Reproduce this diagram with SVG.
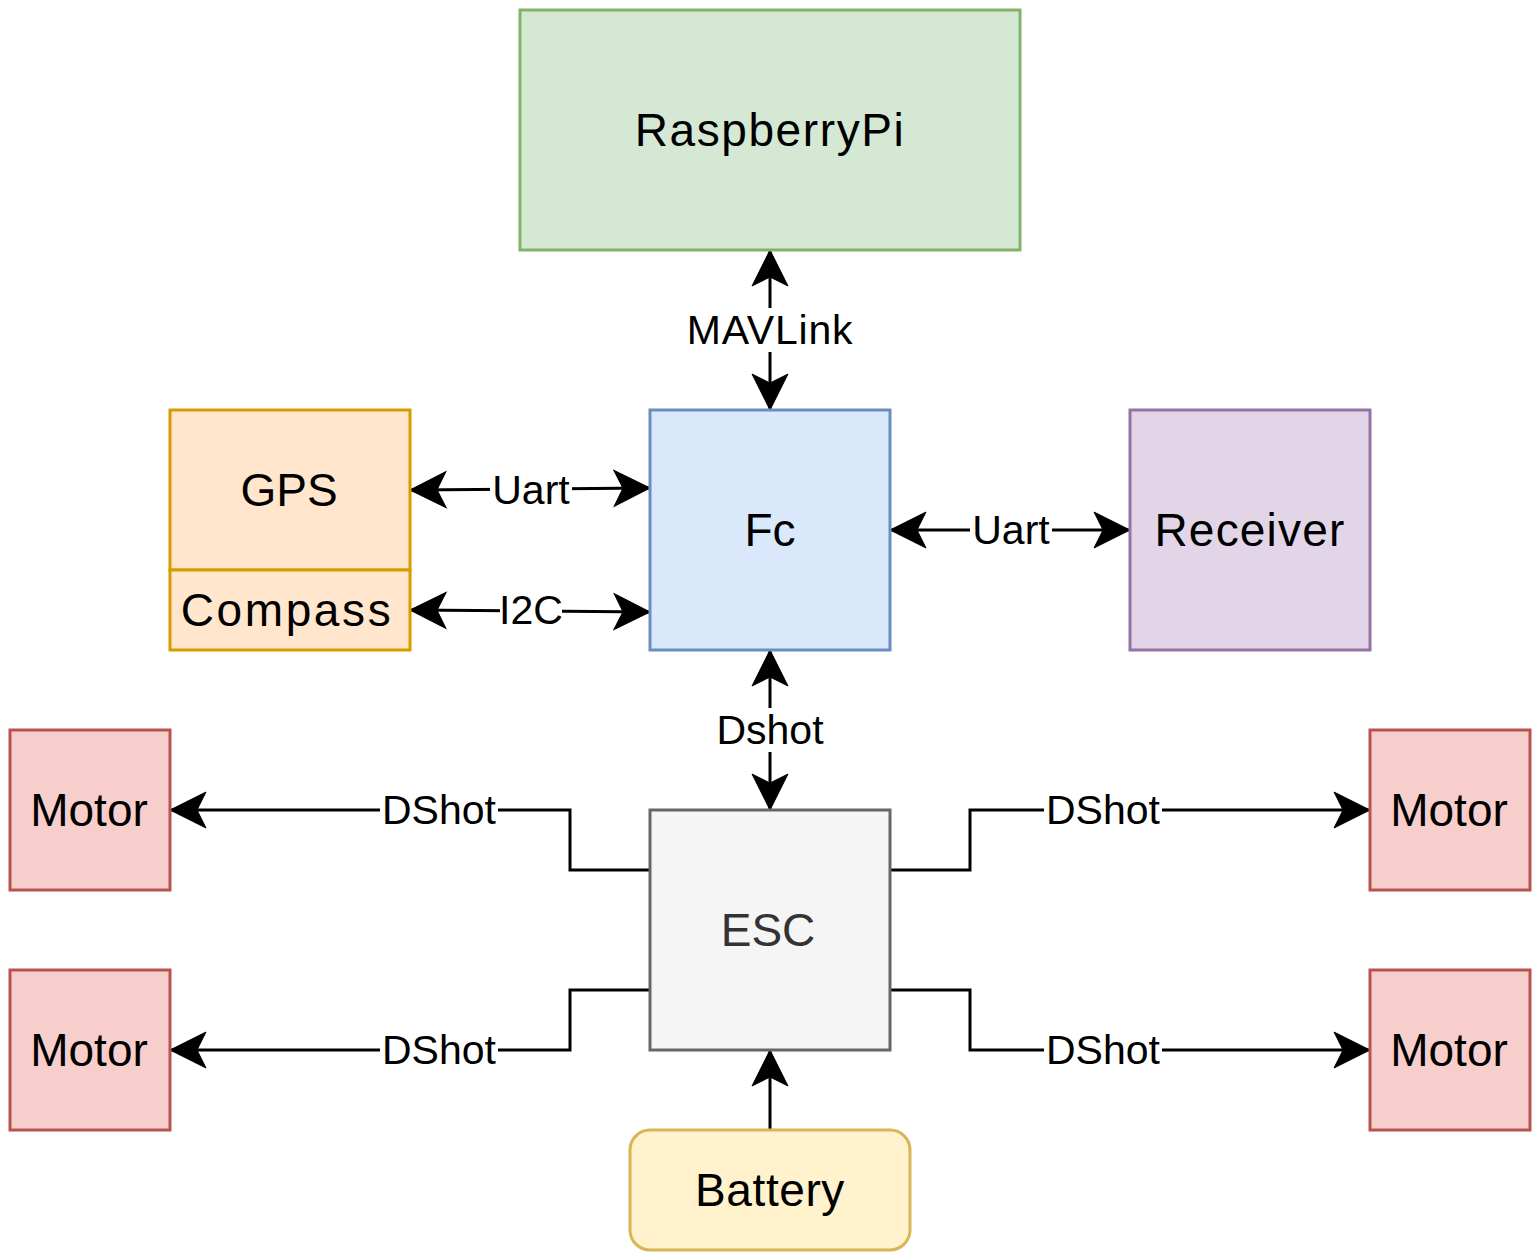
<svg xmlns="http://www.w3.org/2000/svg" width="1540" height="1260" viewBox="0 0 1540 1260">
<defs>
<marker id="arr" markerUnits="userSpaceOnUse" markerWidth="40" markerHeight="40" viewBox="-38 -20 40 40" refX="0" refY="0" orient="auto-start-reverse">
<path d="M0,0 L-36,-18 L-27,0 L-36,18 Z" fill="#000" stroke="#000" stroke-width="1"/>
</marker>
<style>
.n{stroke-width:3}
.t{font-family:"Liberation Sans",Arial,sans-serif;font-size:46px;text-anchor:middle;dominant-baseline:central;fill:#000}
.l{font-family:"Liberation Sans",Arial,sans-serif;font-size:41px;text-anchor:middle;dominant-baseline:central;fill:#000}
.c{fill:none;stroke:#000;stroke-width:3}
.lb{fill:#fff}
</style>
</defs>
<rect width="1540" height="1260" fill="#fff"/>
<g id="connectors">
<path class="c" d="M770,250 L770,410" marker-start="url(#arr)" marker-end="url(#arr)"/>
<path class="c" d="M410,490 L650,488" marker-start="url(#arr)" marker-end="url(#arr)"/>
<path class="c" d="M410,610 L650,612" marker-start="url(#arr)" marker-end="url(#arr)"/>
<path class="c" d="M890,530 L1130,530" marker-start="url(#arr)" marker-end="url(#arr)"/>
<path class="c" d="M770,650 L770,810" marker-start="url(#arr)" marker-end="url(#arr)"/>
<path class="c" d="M650,870 L570,870 L570,810 L170,810" marker-end="url(#arr)"/>
<path class="c" d="M650,990 L570,990 L570,1050 L170,1050" marker-end="url(#arr)"/>
<path class="c" d="M890,870 L970,870 L970,810 L1370,810" marker-end="url(#arr)"/>
<path class="c" d="M890,990 L970,990 L970,1050 L1370,1050" marker-end="url(#arr)"/>
<path class="c" d="M770,1130 L770,1050" marker-end="url(#arr)"/>
<rect class="lb" x="684" y="308" width="172" height="44"/>
<text class="l" x="770" y="330" letter-spacing="0.8">MAVLink</text>
<rect class="lb" x="490" y="468" width="82" height="44"/>
<text class="l" x="531" y="490">Uart</text>
<rect class="lb" x="500" y="588" width="62" height="44"/>
<text class="l" x="531" y="610">I2C</text>
<rect class="lb" x="970" y="508" width="82" height="44"/>
<text class="l" x="1011" y="530">Uart</text>
<rect class="lb" x="714" y="708" width="112" height="44"/>
<text class="l" x="770" y="730">Dshot</text>
<rect class="lb" x="380" y="788" width="118" height="44"/>
<text class="l" x="439" y="810">DShot</text>
<rect class="lb" x="380" y="1028" width="118" height="44"/>
<text class="l" x="439" y="1050">DShot</text>
<rect class="lb" x="1044" y="788" width="118" height="44"/>
<text class="l" x="1103" y="810">DShot</text>
<rect class="lb" x="1044" y="1028" width="118" height="44"/>
<text class="l" x="1103" y="1050">DShot</text>
</g>
<g id="raspberrypi">
<rect class="n" x="520" y="10" width="500" height="240" fill="#d5e8d4" stroke="#82b366"/>
<text class="t" x="770" y="130" letter-spacing="1.6">RaspberryPi</text>
</g>
<g id="fc">
<rect class="n" x="650" y="410" width="240" height="240" fill="#dae8fc" stroke="#6c8ebf"/>
<text class="t" x="770" y="530">Fc</text>
</g>
<g id="gps">
<rect class="n" x="170" y="410" width="240" height="160" fill="#ffe6cc" stroke="#d79b00"/>
<text class="t" x="289" y="490">GPS</text>
</g>
<g id="compass">
<rect class="n" x="170" y="570" width="240" height="80" fill="#ffe6cc" stroke="#d79b00"/>
<text class="t" x="287" y="610" letter-spacing="2.6">Compass</text>
</g>
<g id="receiver">
<rect class="n" x="1130" y="410" width="240" height="240" fill="#e1d5e7" stroke="#9673a6"/>
<text class="t" x="1250" y="530" letter-spacing="1.2">Receiver</text>
</g>
<g id="esc">
<rect class="n" x="650" y="810" width="240" height="240" fill="#f5f5f5" stroke="#666666"/>
<text class="t" x="768" y="930" style="fill:#333333">ESC</text>
</g>
<g id="motor-tl">
<rect class="n" x="10" y="730" width="160" height="160" fill="#f8cecc" stroke="#b85450"/>
<text class="t" x="89" y="810">Motor</text>
</g>
<g id="motor-bl">
<rect class="n" x="10" y="970" width="160" height="160" fill="#f8cecc" stroke="#b85450"/>
<text class="t" x="89" y="1050">Motor</text>
</g>
<g id="motor-tr">
<rect class="n" x="1370" y="730" width="160" height="160" fill="#f8cecc" stroke="#b85450"/>
<text class="t" x="1449" y="810">Motor</text>
</g>
<g id="motor-br">
<rect class="n" x="1370" y="970" width="160" height="160" fill="#f8cecc" stroke="#b85450"/>
<text class="t" x="1449" y="1050">Motor</text>
</g>
<g id="battery">
<rect class="n" x="630" y="1130" width="280" height="120" rx="20" ry="20" fill="#fff2cc" stroke="#d6b656"/>
<text class="t" x="770" y="1190" letter-spacing="0.6">Battery</text>
</g>
</svg>
